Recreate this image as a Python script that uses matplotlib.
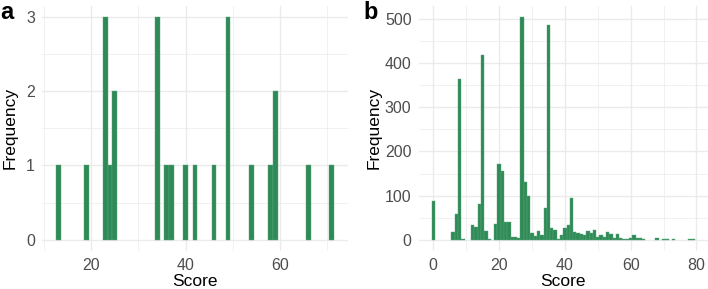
import matplotlib
matplotlib.use('Agg')
import matplotlib.pyplot as plt
from matplotlib.ticker import MultipleLocator

plt.rcParams['font.family'] = ['Liberation Sans', 'DejaVu Sans']

# panel a: score -> count (binwidth 1)
scores_a = [13, 19, 23, 24, 25, 34, 36, 37, 40, 42, 46, 49, 54, 58, 59, 66, 71]
counts_a = [1, 1, 3, 1, 2, 3, 1, 1, 1, 1, 1, 3, 1, 1, 2, 1, 1]

# panel b: score -> count (binwidth 1)
scores_b = [0, 6, 7, 8, 9, 12, 13, 14, 15, 16, 17, 19, 20, 21, 22, 23, 24, 25, 26,
            27, 28, 29, 30, 31, 32, 33, 34, 35, 36, 37, 38, 39, 40, 41, 42, 43, 44,
            45, 46, 47, 48, 49, 50, 51, 52, 53, 54, 55, 56, 57, 58, 59, 60, 61, 62,
            63, 64, 68, 70, 71, 73, 78, 79]
counts_b = [88, 17, 59, 363, 2, 33, 30, 80, 419, 20, 2, 35, 171, 156, 41, 41, 6, 6, 5,
            505, 131, 100, 16, 8, 21, 11, 71, 486, 26, 23, 1, 11, 27, 34, 95, 17, 15,
            13, 11, 21, 16, 23, 7, 11, 6, 17, 14, 4, 13, 4, 2, 3, 4, 11, 4,
            4, 1, 4, 3, 2, 1, 2, 1]

bar_color = '#2e8b57'
grid_color = '#ebebeb'
tick_color = '#4d4d4d'

W, H = 708, 289
fig = plt.figure(figsize=(W / 100, H / 100), dpi=100)


def style_axis(ax, xmajor, ymajor):
    ax.xaxis.set_major_locator(MultipleLocator(xmajor))
    ax.xaxis.set_minor_locator(MultipleLocator(xmajor / 2))
    ax.yaxis.set_major_locator(MultipleLocator(ymajor))
    ax.yaxis.set_minor_locator(MultipleLocator(ymajor / 2))
    ax.grid(True, which='major', color=grid_color, lw=1.0, zorder=0)
    ax.grid(True, which='minor', color=grid_color, lw=0.5, zorder=0)
    ax.set_axisbelow(True)
    for s in ax.spines.values():
        s.set_visible(False)
    ax.tick_params(which='both', length=0, labelsize=11.5, labelcolor=tick_color, pad=5)
    ax.set_xlabel('Score', fontsize=12.5)
    ax.set_ylabel('Frequency', fontsize=12.5)


# panel a
ax1 = fig.add_axes([42 / W, 1 - 251 / H, 306 / W, 245.5 / H])
ax1.bar(scores_a, counts_a, width=1, color=bar_color, edgecolor='#5aa67a', linewidth=0.3, zorder=2)
style_axis(ax1, 20, 1)
ax1.set_xlim(9.55, 74.45)
ax1.set_ylim(-0.15, 3.15)
ax1.xaxis.set_label_coords(0.5, -0.093)
ax1.yaxis.set_label_coords(-0.08, 0.5)

# panel b
ax2 = fig.add_axes([418.5 / W, 1 - 251 / H, 289.5 / W, 245.5 / H])
ax2.bar(scores_b, counts_b, width=1, color=bar_color, edgecolor='#5aa67a', linewidth=0.3, zorder=2)
style_axis(ax2, 20, 100)
ax2.set_xlim(-4.5, 83.5)
ax2.set_ylim(-25.25, 530.25)
ax2.xaxis.set_label_coords(0.5, -0.093)
ax2.yaxis.set_label_coords(-0.127, 0.5)

fig.text(0 / W, 1 - 19 / H, 'a', fontsize=17, fontweight='bold', va='baseline')
fig.text(363 / W, 1 - 19 / H, 'b', fontsize=17, fontweight='bold', va='baseline')

fig.savefig('out.png', dpi=100)
